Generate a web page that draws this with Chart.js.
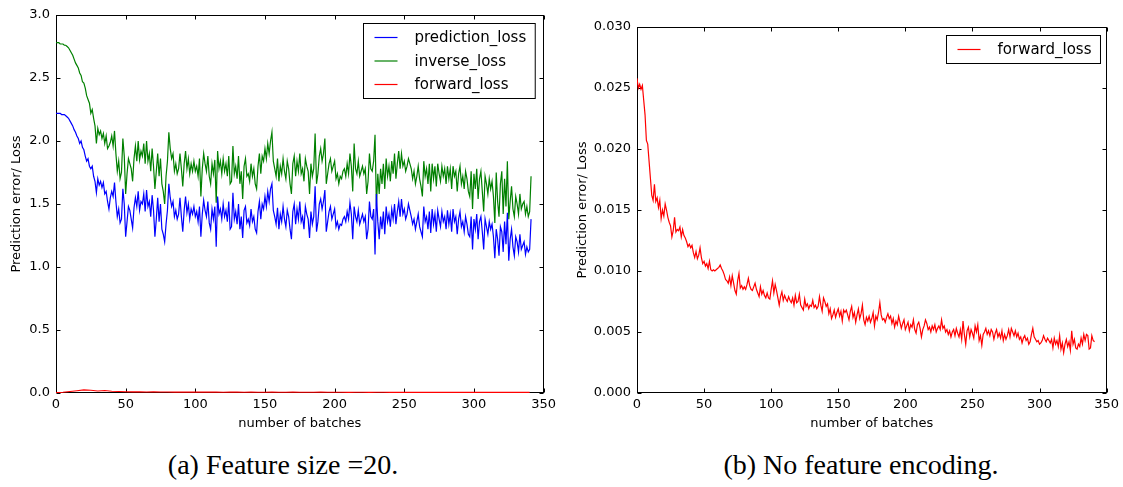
<!DOCTYPE html>
<html>
<head>
<meta charset="utf-8">
<title>Loss curves</title>
<script src="https://cdn.jsdelivr.net/npm/chart.js@4.4.1/dist/chart.umd.min.js"></script>
<style>
  html, body { margin: 0; padding: 0; background: #fff; }
  body { width: 1123px; height: 487px; position: relative; overflow: hidden; }
  canvas { position: absolute; top: 0; }
  #left { left: 0; }
  #right { left: 560px; }
  .caption {
    position: absolute; top: 449px; width: 400px; text-align: center;
    font-family: "Liberation Serif", "DejaVu Serif", serif; font-size: 28px; color: #000;
  }
</style>
</head>
<body>
<canvas id="left" width="560" height="440"></canvas>
<canvas id="right" width="563" height="440"></canvas>
<div class="caption" style="left:83px">(a) Feature size =20.</div>
<div class="caption" style="left:661px">(b) No feature encoding.</div>
<script>
// (a) feature size 20, one value per batch
const predictionLoss = [
  2.22, 2.22, 2.22, 2.22, 2.21, 2.21, 2.21, 2.20, 2.19, 2.18,
  2.16, 2.14, 2.12, 2.09, 2.07, 2.04, 2.02, 1.98, 2.00, 1.95,
  1.93, 1.88, 1.84, 1.86, 1.80, 1.78, 1.80, 1.72, 1.68, 1.59,
  1.70, 1.65, 1.68, 1.63, 1.67, 1.58, 1.60, 1.52, 1.46, 1.55,
  1.60, 1.56, 1.67, 1.52, 1.40, 1.46, 1.35, 1.38, 1.62, 1.50,
  1.24, 1.36, 1.48, 1.45, 1.38, 1.31, 1.47, 1.55, 1.48, 1.60,
  1.45, 1.52, 1.50, 1.58, 1.44, 1.61, 1.48, 1.52, 1.40, 1.57,
  1.45, 1.24, 1.38, 1.55, 1.36, 1.50, 1.30, 1.26, 1.20, 1.34,
  1.45, 1.66, 1.55, 1.48, 1.52, 1.40, 1.45, 1.38, 1.42, 1.55,
  1.40, 1.28, 1.45, 1.56, 1.43, 1.50, 1.38, 1.46, 1.42, 1.48,
  1.40, 1.44, 1.36, 1.48, 1.24, 1.42, 1.53, 1.45, 1.40, 1.52,
  1.35, 1.30, 1.46, 1.38, 1.48, 1.16, 1.56, 1.42, 1.46, 1.38,
  1.50, 1.40, 1.45, 1.36, 1.52, 1.30, 1.32, 1.59, 1.38, 1.44,
  1.34, 1.50, 1.30, 1.40, 1.23, 1.45, 1.48, 1.35, 1.38, 1.33,
  1.46, 1.36, 1.40, 1.30, 1.27, 1.44, 1.52, 1.38, 1.50, 1.46,
  1.56, 1.48, 1.60, 1.52, 1.62, 1.66, 1.45, 1.40, 1.34, 1.47,
  1.30, 1.42, 1.36, 1.48, 1.38, 1.32, 1.45, 1.40, 1.30, 1.22,
  1.44, 1.50, 1.34, 1.46, 1.38, 1.52, 1.36, 1.40, 1.30, 1.48,
  1.42, 1.38, 1.23, 1.44, 1.34, 1.40, 1.64, 1.28, 1.36, 1.50,
  1.54, 1.46, 1.52, 1.61, 1.28, 1.36, 1.44, 1.48, 1.38, 1.42,
  1.46, 1.32, 1.36, 1.30, 1.34, 1.33, 1.38, 1.40, 1.36, 1.44,
  1.38, 1.51, 1.42, 1.22, 1.48, 1.40, 1.36, 1.45, 1.34, 1.38,
  1.42, 1.36, 1.40, 1.22, 1.30, 1.52, 1.40, 1.38, 1.46, 1.10,
  1.58, 1.36, 1.22, 1.40, 1.30, 1.44, 1.26, 1.48, 1.36, 1.42,
  1.32, 1.46, 1.38, 1.50, 1.34, 1.44, 1.52, 1.40, 1.54, 1.42,
  1.46, 1.38, 1.42, 1.50, 1.45, 1.40, 1.34, 1.38, 1.30, 1.36,
  1.42, 1.32, 1.28, 1.24, 1.48, 1.36, 1.40, 1.30, 1.44, 1.27,
  1.46, 1.34, 1.42, 1.28, 1.45, 1.38, 1.32, 1.44, 1.36, 1.40,
  1.30, 1.45, 1.34, 1.42, 1.28, 1.46, 1.36, 1.40, 1.26, 1.38,
  1.44, 1.32, 1.36, 1.28, 1.40, 1.34, 1.26, 1.24, 1.40, 1.14,
  1.38, 1.30, 1.42, 1.22, 1.36, 1.40, 1.28, 1.14, 1.38, 1.32,
  1.26, 1.36, 1.30, 1.34, 1.24, 1.07, 1.30, 1.22, 1.09, 1.32,
  1.28, 1.12, 1.36, 1.18, 1.43, 1.05, 1.22, 1.30, 1.16, 1.09,
  1.24, 1.20, 1.12, 1.26, 1.14, 1.17, 1.20, 1.10, 1.16, 1.12,
  1.14, 1.38
];

const inverseLoss = [
  2.78, 2.78, 2.78, 2.77, 2.77, 2.77, 2.76, 2.76, 2.75, 2.74,
  2.72, 2.70, 2.68, 2.65, 2.62, 2.60, 2.58, 2.54, 2.52, 2.47,
  2.46, 2.42, 2.36, 2.33, 2.30, 2.22, 2.25, 2.18, 2.12, 1.98,
  2.10, 2.05, 2.08, 2.02, 2.06, 1.98, 2.04, 1.94, 1.96, 1.99,
  2.04, 1.96, 2.08, 1.90, 1.76, 1.84, 1.70, 1.75, 2.02, 1.88,
  1.58, 1.74, 1.86, 1.82, 1.78, 1.68, 1.86, 1.96, 1.84, 2.00,
  1.85, 1.92, 1.88, 1.98, 1.82, 2.00, 1.84, 1.90, 1.76, 1.94,
  1.80, 1.62, 1.76, 1.90, 1.72, 1.86, 1.66, 1.60, 1.50, 1.72,
  1.84, 2.07, 1.94, 1.86, 1.90, 1.76, 1.82, 1.74, 1.78, 1.90,
  1.78, 1.64, 1.82, 1.92, 1.78, 1.86, 1.74, 1.82, 1.76, 1.84,
  1.76, 1.80, 1.72, 1.86, 1.56, 1.78, 1.90, 1.82, 1.76, 1.88,
  1.72, 1.66, 1.82, 1.74, 1.85, 1.51, 1.92, 1.78, 1.84, 1.74,
  1.86, 1.76, 1.82, 1.72, 1.88, 1.66, 1.68, 1.96, 1.74, 1.80,
  1.70, 1.88, 1.66, 1.76, 1.54, 1.80, 1.86, 1.72, 1.74, 1.68,
  1.82, 1.72, 1.78, 1.66, 1.62, 1.80, 1.90, 1.74, 1.88, 1.84,
  1.94, 1.86, 1.98, 1.90, 2.00, 2.07, 1.84, 1.78, 1.72, 1.86,
  1.68, 1.80, 1.74, 1.86, 1.76, 1.70, 1.84, 1.78, 1.66, 1.58,
  1.82, 1.88, 1.72, 1.84, 1.76, 1.90, 1.74, 1.78, 1.68, 1.86,
  1.80, 1.76, 1.58, 1.82, 1.72, 1.78, 2.06, 1.66, 1.74, 1.88,
  1.94, 1.84, 1.90, 2.02, 1.66, 1.74, 1.82, 1.86, 1.76, 1.80,
  1.84, 1.70, 1.74, 1.66, 1.72, 1.70, 1.76, 1.78, 1.72, 1.82,
  1.74, 1.90, 1.80, 1.60, 1.98, 1.78, 1.74, 1.84, 1.72, 1.76,
  1.80, 1.74, 1.78, 1.58, 1.68, 1.90, 1.78, 1.76, 1.84, 2.05,
  1.48, 1.74, 1.58, 1.78, 1.66, 1.82, 1.62, 1.86, 1.72, 1.80,
  1.68, 1.84, 1.74, 1.90, 1.70, 1.82, 1.92, 1.78, 1.90, 1.80,
  1.84, 1.76, 1.80, 1.86, 1.82, 1.78, 1.70, 1.76, 1.66, 1.72,
  1.80, 1.70, 1.64, 1.56, 1.84, 1.72, 1.78, 1.66, 1.82, 1.60,
  1.82, 1.70, 1.80, 1.64, 1.82, 1.74, 1.68, 1.80, 1.72, 1.78,
  1.66, 1.80, 1.70, 1.78, 1.62, 1.80, 1.72, 1.76, 1.60, 1.74,
  1.80, 1.66, 1.72, 1.62, 1.76, 1.70, 1.60, 1.56, 1.76, 1.46,
  1.74, 1.62, 1.78, 1.54, 1.70, 1.76, 1.60, 1.44, 1.72, 1.66,
  1.58, 1.70, 1.62, 1.68, 1.56, 1.35, 1.75, 1.52, 1.40, 1.66,
  1.76, 1.42, 1.70, 1.48, 1.84, 1.38, 1.52, 1.64, 1.46, 1.40,
  1.56, 1.50, 1.42, 1.58, 1.46, 1.50, 1.52, 1.42, 1.48, 1.40,
  1.44, 1.72
];

// forward loss in (a) sits almost on zero; read every 5 batches
const forwardLossA = [
  0.003, 0.006, 0.012, 0.018, 0.024, 0.022, 0.016, 0.020, 0.014, 0.012,
  0.010, 0.009, 0.009, 0.008, 0.009, 0.008, 0.008, 0.007, 0.008, 0.007,
  0.007, 0.008, 0.007, 0.007, 0.006, 0.007, 0.007, 0.006, 0.007, 0.006,
  0.006, 0.007, 0.006, 0.006, 0.007, 0.006, 0.006, 0.006, 0.007, 0.006,
  0.006, 0.006, 0.005, 0.006, 0.006, 0.005, 0.006, 0.006, 0.005, 0.006,
  0.005, 0.006, 0.005, 0.005, 0.006, 0.005, 0.005, 0.006, 0.005, 0.005,
  0.006, 0.005, 0.005, 0.005, 0.006, 0.005, 0.005, 0.005, 0.005
];
const forwardLossABatches = forwardLossA.map((_, i) => i * 5);

// (b) no feature encoding, one value per batch
const forwardLossB = [
  0.0258, 0.0250, 0.0253, 0.0249, 0.0252, 0.0240, 0.0228, 0.0207, 0.0204, 0.0190,
  0.0176, 0.0162, 0.0158, 0.0171, 0.0157, 0.0160, 0.0152, 0.0158, 0.0143, 0.0150,
  0.0145, 0.0155, 0.0150, 0.0144, 0.0140, 0.0137, 0.0128, 0.0133, 0.0144, 0.0132,
  0.0134, 0.0133, 0.0136, 0.0128, 0.0134, 0.0129, 0.0127, 0.0124, 0.0120, 0.0122,
  0.0119, 0.0121, 0.0115, 0.0111, 0.0116, 0.0110, 0.0113, 0.0119, 0.0111, 0.0106,
  0.0108, 0.0104, 0.0106, 0.0102, 0.0108, 0.0101, 0.0100, 0.0101, 0.0100, 0.0101,
  0.0102, 0.0103, 0.0105, 0.0102, 0.0100, 0.0097, 0.0093, 0.0092, 0.0090, 0.0095,
  0.0088, 0.0096, 0.0090, 0.0084, 0.0081, 0.0092, 0.0098, 0.0086, 0.0088, 0.0085,
  0.0087, 0.0085, 0.0089, 0.0094, 0.0088, 0.0085, 0.0084, 0.0087, 0.0090, 0.0085,
  0.0082, 0.0079, 0.0087, 0.0081, 0.0084, 0.0080, 0.0078, 0.0082, 0.0078, 0.0077,
  0.0085, 0.0092, 0.0082, 0.0089, 0.0084, 0.0078, 0.0072, 0.0079, 0.0083, 0.0076,
  0.0080, 0.0077, 0.0075, 0.0079, 0.0076, 0.0074, 0.0078, 0.0072, 0.0080, 0.0074,
  0.0075, 0.0081, 0.0072, 0.0070, 0.0068, 0.0077, 0.0071, 0.0073, 0.0069, 0.0072,
  0.0071, 0.0076, 0.0070, 0.0072, 0.0069, 0.0071, 0.0079, 0.0072, 0.0067, 0.0078,
  0.0075, 0.0071, 0.0073, 0.0065, 0.0069, 0.0061, 0.0064, 0.0068, 0.0062, 0.0066,
  0.0069, 0.0063, 0.0067, 0.0059, 0.0068, 0.0066, 0.0068, 0.0064, 0.0060, 0.0067,
  0.0071, 0.0062, 0.0066, 0.0058, 0.0064, 0.0069, 0.0061, 0.0065, 0.0072, 0.0060,
  0.0056, 0.0062, 0.0059, 0.0063, 0.0058, 0.0061, 0.0066, 0.0055, 0.0063, 0.0060,
  0.0066, 0.0074, 0.0064, 0.0060, 0.0061, 0.0058, 0.0062, 0.0065, 0.0061, 0.0063,
  0.0057, 0.0061, 0.0054, 0.0059, 0.0056, 0.0063, 0.0058, 0.0053, 0.0057, 0.0060,
  0.0052, 0.0055, 0.0058, 0.0051, 0.0056, 0.0054, 0.0060, 0.0052, 0.0049, 0.0056,
  0.0058, 0.0053, 0.0046, 0.0052, 0.0055, 0.0060, 0.0057, 0.0052, 0.0054, 0.0050,
  0.0055, 0.0052, 0.0056, 0.0050, 0.0053, 0.0055, 0.0052, 0.0060, 0.0053, 0.0055,
  0.0050, 0.0052, 0.0048, 0.0051, 0.0046, 0.0050, 0.0052, 0.0047, 0.0053, 0.0049,
  0.0046, 0.0052, 0.0044, 0.0059, 0.0048, 0.0040, 0.0051, 0.0054, 0.0046, 0.0052,
  0.0049, 0.0045, 0.0055, 0.0050, 0.0056, 0.0043, 0.0047, 0.0039, 0.0048, 0.0050,
  0.0053, 0.0048, 0.0051, 0.0047, 0.0052, 0.0050, 0.0044, 0.0049, 0.0052, 0.0046,
  0.0049, 0.0045, 0.0051, 0.0043, 0.0048, 0.0044, 0.0047, 0.0052, 0.0046, 0.0053,
  0.0050, 0.0047, 0.0051, 0.0046, 0.0049, 0.0044, 0.0046, 0.0041, 0.0045, 0.0047,
  0.0043, 0.0045, 0.0040, 0.0042, 0.0048, 0.0053, 0.0046, 0.0044, 0.0042, 0.0043,
  0.0040, 0.0041, 0.0043, 0.0047, 0.0044, 0.0042, 0.0045, 0.0043, 0.0041, 0.0044,
  0.0037, 0.0045, 0.0040, 0.0043, 0.0038, 0.0047, 0.0036, 0.0041, 0.0033, 0.0040,
  0.0044, 0.0038, 0.0042, 0.0035, 0.0051, 0.0040, 0.0044, 0.0037, 0.0036, 0.0040,
  0.0038, 0.0045, 0.0040, 0.0048, 0.0043, 0.0048, 0.0047, 0.0036, 0.0037, 0.0047,
  0.0043, 0.0042
];

const FONT = 'DejaVu Sans';

function points(values, batches) {
  return values.map((v, i) => ({ x: batches ? batches[i] : i, y: v }));
}

// matplotlib-classic look: full black frame, short inward ticks on every side
const frameTicks = {
  id: 'frameTicks',
  beforeDatasetsDraw(chart) {
    const { ctx, chartArea: a, scales: { x, y } } = chart;
    const L = Math.round(a.left) + 0.5, R = Math.round(a.right) - 0.5;
    const T = Math.round(a.top) + 0.5, B = Math.round(a.bottom) - 0.5;
    ctx.save();
    ctx.strokeStyle = '#000';
    ctx.lineWidth = 1;
    ctx.strokeRect(L, T, R - L, B - T);
    ctx.beginPath();
    x.ticks.forEach((t) => {
      const px = Math.round(x.getPixelForValue(t.value)) + 0.5;
      ctx.moveTo(px, T); ctx.lineTo(px, T + 4);
      ctx.moveTo(px, B); ctx.lineTo(px, B - 4);
    });
    y.ticks.forEach((t) => {
      const py = Math.round(y.getPixelForValue(t.value)) + 0.5;
      ctx.moveTo(L, py); ctx.lineTo(L + 4, py);
      ctx.moveTo(R, py); ctx.lineTo(R - 4, py);
    });
    ctx.stroke();
    ctx.restore();
  },
};

// boxed legend in the upper right corner of the plot
const boxLegend = {
  id: 'boxLegend',
  afterDraw(chart, args, opts) {
    const { ctx, chartArea: a } = chart;
    const sets = chart.data.datasets.filter((d) => d.label);
    ctx.save();
    ctx.font = '15px "' + FONT + '"';
    const textW = Math.max(...sets.map((d) => ctx.measureText(d.label).width));
    const w = 11 + 23 + 17 + textW + 9;
    const h = sets.length * 23.5 + 4.5;
    const left = Math.round(a.right - opts.inset - w) + 0.5;
    const top = Math.round(a.top + opts.top) + 0.5;
    ctx.fillStyle = '#fff';
    ctx.fillRect(left, top, w, h);
    ctx.strokeStyle = '#000';
    ctx.lineWidth = 1;
    ctx.strokeRect(left, top, w, h);
    ctx.textBaseline = 'middle';
    ctx.textAlign = 'left';
    sets.forEach((d, i) => {
      const cy = top + 2.25 + 23.5 * (i + 0.5);
      ctx.strokeStyle = d.borderColor;
      ctx.lineWidth = 1.2;
      ctx.beginPath();
      ctx.moveTo(left + 11, cy);
      ctx.lineTo(left + 34, cy);
      ctx.stroke();
      ctx.fillStyle = '#000';
      ctx.fillText(d.label, left + 51, cy + 1);
    });
    ctx.restore();
  },
};

function lineSet(label, data, color) {
  return {
    label, data,
    borderColor: color, backgroundColor: color,
    borderWidth: 1.2, pointRadius: 0, tension: 0, fill: false,
  };
}

function makeOptions(cfg) {
  return {
    responsive: false,
    animation: false,
    layout: { padding: { left: 0, top: cfg.top, right: cfg.right, bottom: 0 } },
    plugins: {
      legend: { display: false },
      tooltip: { enabled: false },
      boxLegend: { inset: cfg.legendInset, top: cfg.legendTop },
    },
    scales: {
      x: {
        type: 'linear', min: 0, max: 350,
        afterFit: (s) => { s.height = 47; },
        grid: { display: false, drawTicks: false },
        border: { display: false },
        ticks: { stepSize: 50, padding: 4, color: '#000', font: { family: FONT, size: 13 } },
        title: { display: true, text: 'number of batches', color: '#000',
                 font: { family: FONT, size: 13 }, padding: { top: 0, bottom: 9 } },
      },
      y: {
        type: 'linear', min: 0, max: cfg.yMax,
        afterFit: (s) => { s.width = cfg.yWidth; },
        grid: { display: false, drawTicks: false },
        border: { display: false },
        ticks: {
          stepSize: cfg.yStep, padding: 6, color: '#000',
          font: { family: FONT, size: 13 },
          callback: (v) => v.toFixed(cfg.digits),
        },
        title: { display: true, text: 'Prediction error/ Loss', color: '#000',
                 font: { family: FONT, size: 13 }, padding: { top: cfg.titlePad, bottom: 0 } },
      },
    },
  };
}

new Chart(document.getElementById('left'), {
  type: 'line',
  data: {
    datasets: [
      lineSet('prediction_loss', points(predictionLoss), '#0000ff'),
      lineSet('inverse_loss', points(inverseLoss), '#008000'),
      lineSet('forward_loss', points(forwardLossA, forwardLossABatches), '#ff0000'),
    ],
  },
  options: makeOptions({ top: 15, right: 13, yMax: 3, yStep: 0.5, digits: 1,
    yWidth: 56, titlePad: 9, legendInset: 9, legendTop: 8 }),
  plugins: [frameTicks, boxLegend],
});

new Chart(document.getElementById('right'), {
  type: 'line',
  data: {
    datasets: [lineSet('forward_loss', points(forwardLossB), '#ff0000')],
  },
  options: makeOptions({ top: 27, right: 14, yMax: 0.03, yStep: 0.005, digits: 3,
    yWidth: 77, titlePad: 15, legendInset: 7, legendTop: 8 }),
  plugins: [frameTicks, boxLegend],
});
</script>
</body>
</html>
